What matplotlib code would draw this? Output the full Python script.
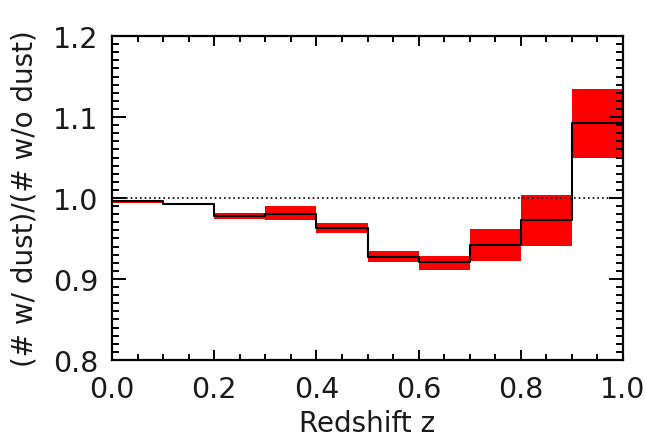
import numpy as np
import matplotlib
matplotlib.use("Agg")
import matplotlib.pyplot as plt
from matplotlib.ticker import MultipleLocator

# redshift bin edges and ratio (# w/ dust)/(# w/o dust) per bin
z_edges = [0.0, 0.1, 0.2, 0.3, 0.4, 0.5, 0.6, 0.7, 0.8, 0.9, 1.0]
ratio = [0.996, 0.9926, 0.9774, 0.980, 0.963, 0.9268, 0.9206, 0.9423, 0.9728, 1.092]
ratio_lo = [0.9935, 0.9912, 0.974, 0.973, 0.957, 0.9206, 0.911, 0.922, 0.941, 1.050]
ratio_hi = [0.9979, 0.9940, 0.981, 0.990, 0.9695, 0.9346, 0.929, 0.962, 1.004, 1.134]

plt.rcParams["font.family"] = "DejaVu Sans"
text_col = "#1a1a1a"

fig = plt.figure(figsize=(6.46, 4.39), dpi=100)
ax = fig.add_axes([0.1734, 0.1777, 0.791, 0.7380])

left = np.array(z_edges[:-1])
width = np.diff(z_edges)
lo = np.array(ratio_lo)
hi = np.array(ratio_hi)
ax.bar(left, hi - lo, width=width, bottom=lo, align="edge",
       color="#ff0000", edgecolor="none", zorder=1)

ax.step(z_edges, list(ratio) + [ratio[-1]], where="post", color="black",
        lw=1.5, zorder=3)
ax.axhline(1.0, color="black", ls=(0, (1, 1.8)), lw=1.2, zorder=2)

ax.set_xlim(0, 1.0)
ax.set_ylim(0.8, 1.2)
ax.set_xticks(np.arange(0, 1.01, 0.2))
ax.set_xticklabels(["0.0", "0.2", "0.4", "0.6", "0.8", "1.0"])
ax.set_yticks(np.arange(0.8, 1.21, 0.1))
ax.set_yticklabels(["0.8", "0.9", "1.0", "1.1", "1.2"])
ax.xaxis.set_minor_locator(MultipleLocator(0.05))
ax.yaxis.set_minor_locator(MultipleLocator(0.01))

ax.tick_params(which="both", direction="in", top=True, right=True,
               width=1.4, labelsize=20.5, labelcolor=text_col)
ax.tick_params(axis="x", which="major", length=7, pad=11)
ax.tick_params(axis="x", which="minor", length=4)
ax.tick_params(axis="y", which="major", length=10, pad=10)
ax.tick_params(axis="y", which="minor", length=5)
for s in ax.spines.values():
    s.set_linewidth(1.6)

ax.set_xlabel("Redshift z", fontsize=20, labelpad=4, color=text_col)
ax.set_ylabel("(# w/ dust)/(# w/o dust)", fontsize=20, labelpad=10,
              color=text_col)

fig.savefig("out.png", dpi=100)
